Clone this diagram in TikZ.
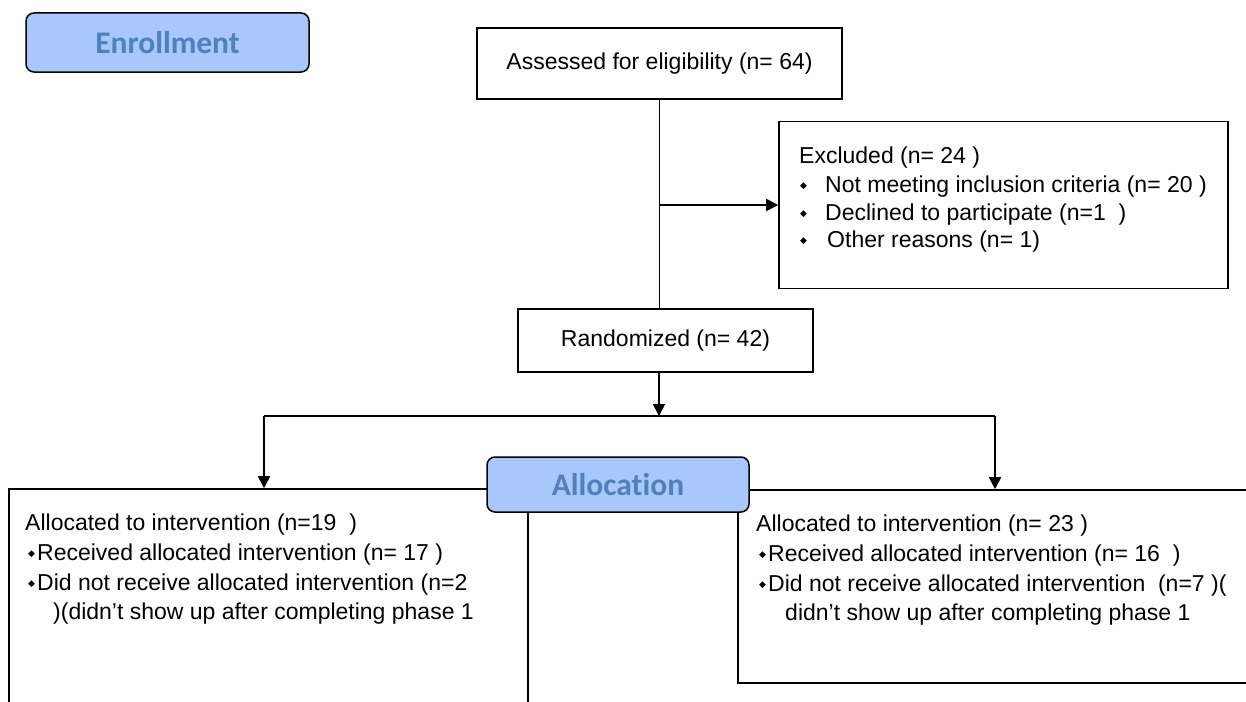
\documentclass[tikz,border=0pt]{standalone}
\usepackage{fontspec}
\setmainfont{Liberation Sans}
\newfontfamily\calib[Ligatures=NoCommon]{Carlito}
\newfontfamily\symf{DejaVu Sans}
\usetikzlibrary{arrows.meta}
\definecolor{phasefill}{RGB}{168,199,250}
\definecolor{phasetext}{RGB}{79,129,189}
\newcommand{\bul}{\raisebox{3.5pt}{\fontsize{9}{9}\selectfont\symf ◆}}
\begin{document}
\begin{tikzpicture}[x=1pt,y=-1pt,
  phase/.style={draw, line width=1.5pt, rounded corners=8pt, fill=phasefill, text=phasetext,
    font=\calib\bfseries\fontsize{31.5}{31.5}\selectfont, inner sep=0pt},
  box/.style={draw, line width=1.6pt, inner sep=0pt, font=\fontsize{23}{27}\selectfont},
  txt/.style={anchor=base west, inner sep=0pt, font=\fontsize{23}{27}\selectfont},
  conn/.style={line width=1.8pt},
  arr/.style={conn, -{Triangle[length=12pt,width=12pt]}}]
\useasboundingbox (0,0) rectangle (1246,701);
\clip (0,0) rectangle (1246,701);

% boxes
\node[phase, minimum width=283pt, minimum height=59pt] (enroll) at (167.5,42.5) {\raisebox{-1.5pt}{Enrollment}};
\node[box, minimum width=365pt, minimum height=71pt] (assess) at (659.5,63.5) {Assessed for eligibility (n= 64)};
\node[box, minimum width=449pt, minimum height=167pt] (excl) at (1003.5,205) {};
\node[box, minimum width=295pt, minimum height=63pt] (rand) at (665.5,340.5) {Randomized (n= 42)};
\node[box, minimum width=519pt, minimum height=240pt] (lbox) at (268.5,609) {};
\node[box, minimum width=522pt, minimum height=193pt] (rbox) at (999,586.5) {};
\node[phase, minimum width=262pt, minimum height=55pt] (alloc) at (618,484.5) {\raisebox{-3.5pt}{Allocation}};

% excluded text
\node[txt] (ex0) at (799,163) {Excluded (n= 24 )};
\node[txt] (ex1) at (800,192) {\makebox[25pt][l]{\bul}Not meeting inclusion criteria (n= 20 )};
\node[txt] (ex2) at (800,220) {\makebox[25pt][l]{\bul}Declined to participate (n=1\ \ )};
\node[txt] (ex3) at (800,247) {\makebox[27pt][l]{\bul}Other reasons (n= 1)};

% left text
\node[txt] (l0) at (25,530) {Allocated to intervention (n=19\ \ )};
\node[txt] (l1) at (28,560) {\makebox[9pt][l]{\bul}Received allocated intervention (n= 17 )};
\node[txt] (l2) at (28,590) {\makebox[9pt][l]{\bul}Did not receive allocated intervention (n=2};
\node[txt] (l3) at (53,619) {)(didn’t show up after completing phase 1};

% right text
\node[txt] (r0) at (756,531) {Allocated to intervention (n= 23 )};
\node[txt] (r1) at (759,561) {\makebox[9pt][l]{\bul}Received allocated intervention (n= 16\ \ )};
\node[txt] (r2) at (759,591) {\makebox[9pt][l]{\bul}Did not receive allocated intervention\ \ (n=7 )(};
\node[txt] (r3) at (785,620) {didn’t show up after completing phase 1};

% connectors
\coordinate (split) at (659,416);
\coordinate (bl) at (264,416);
\coordinate (br) at (995,416);
\coordinate (tk1) at (572,416);
\coordinate (tk2) at (697,416);
\draw[conn] (assess.south) -- (assess.south |- rand.north);
\draw[arr] (assess.south |- excl.west) -- (excl.west);
\draw[conn] (bl) -- (br);
\draw[line width=2.6pt] (tk1) -- (tk2);
\draw[arr] (rand.south -| split) -- (split);
\draw[arr] (bl) -- (bl |- lbox.north);
\draw[arr] (br) -- (br |- rbox.north);
\end{tikzpicture}
\end{document}
